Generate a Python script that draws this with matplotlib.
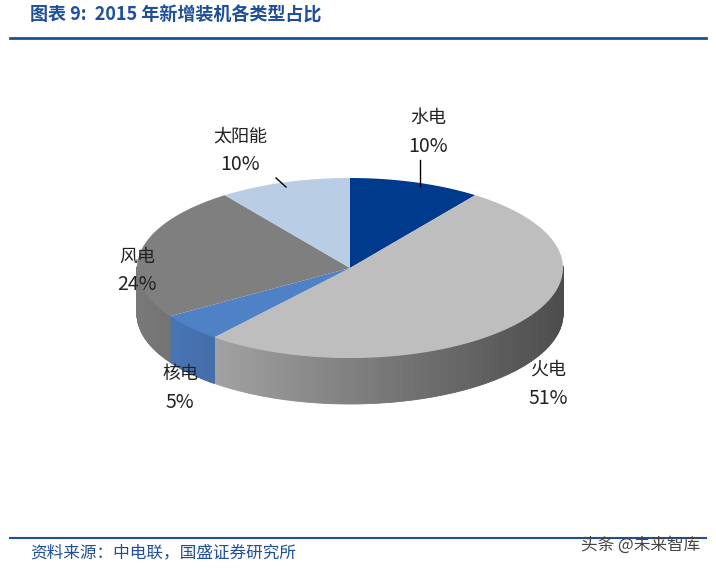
import numpy as np
import matplotlib.pyplot as plt
from matplotlib.patches import Polygon
import matplotlib.colors as mcolors

plt.rcParams['font.family'] = ['Noto Sans CJK SC', 'DejaVu Sans']

labels = ['水电', '火电', '核电', '风电', '太阳能']
values = [10, 51, 5, 24, 10]
colors = ['#003A8C', '#BEBEBE', '#4F81C7', '#7F7F7F', '#B9CDE5']
label_pos = [(428, 132), (548, 384), (180, 388), (137, 271), (240, 151)]

cx, cy, rx, ry, depth = 350, 268, 213, 90, 46

fig = plt.figure(figsize=(7.16, 5.68), dpi=100)
ax = fig.add_axes([0, 0, 1, 1])
ax.set_xlim(0, 716)
ax.set_ylim(568, 0)
ax.axis('off')

def pt(t, dy=0):
    return cx + rx * np.cos(t), cy - ry * np.sin(t) + dy

total = sum(values)
starts = []
acc = 0
for v in values:
    t0 = np.pi / 2 - 2 * np.pi * acc / total
    t1 = np.pi / 2 - 2 * np.pi * (acc + v) / total
    starts.append((t0, t1))
    acc += v

# side walls
for (t0, t1), c in zip(starts, colors):
    ts = np.linspace(t0, t1, 200)
    base = np.array(mcolors.to_rgb(c))
    for a, b in zip(ts[:-1], ts[1:]):
        m = (a + b) / 2
        if np.sin(m) > 0.02:
            continue
        f = 0.95 - 0.55 * (np.cos(m) + 1) / 2
        x0, y0 = pt(a)
        x1, y1 = pt(b)
        ax.add_patch(Polygon([(x0, y0), (x1, y1), (x1, y1 + depth), (x0, y0 + depth)],
                             closed=True, facecolor=np.clip(base * f, 0, 1),
                             edgecolor=np.clip(base * f, 0, 1), lw=0.6))

# tops
for (t0, t1), c in zip(starts, colors):
    ts = np.linspace(t0, t1, 200)
    xs, ys = pt(ts)
    verts = [(cx, cy)] + list(zip(xs, ys))
    ax.add_patch(Polygon(verts, closed=True, facecolor=c, edgecolor='none'))

for lab, v, (x, y) in zip(labels, values, label_pos):
    ax.text(x, y - 14, lab, ha='center', va='center', fontsize=13, color='#222222')
    ax.text(x, y + 14, f'{v}%', ha='center', va='center', fontsize=14, color='#222222')

ax.plot([420, 420], [160, 186], color='black', lw=1)
ax.plot([276, 286], [178, 187], color='black', lw=1)

blue = '#1F4E9B'
ax.text(30, 15, '图表 9:  2015 年新增装机各类型占比', fontsize=13, color=blue,
        style='italic', va='center', fontweight='bold')
ax.plot([10, 706], [38, 38], color=blue, lw=2)
ax.plot([10, 706], [538, 538], color=blue, lw=1.5)
ax.text(30, 553, '资料来源：中电联，国盛证券研究所', fontsize=12, color=blue,
        style='italic', va='center')
ax.text(700, 545, '头条 @未来智库', fontsize=12, color='#444444', ha='right', va='center')

fig.savefig('out.png', dpi=100)
